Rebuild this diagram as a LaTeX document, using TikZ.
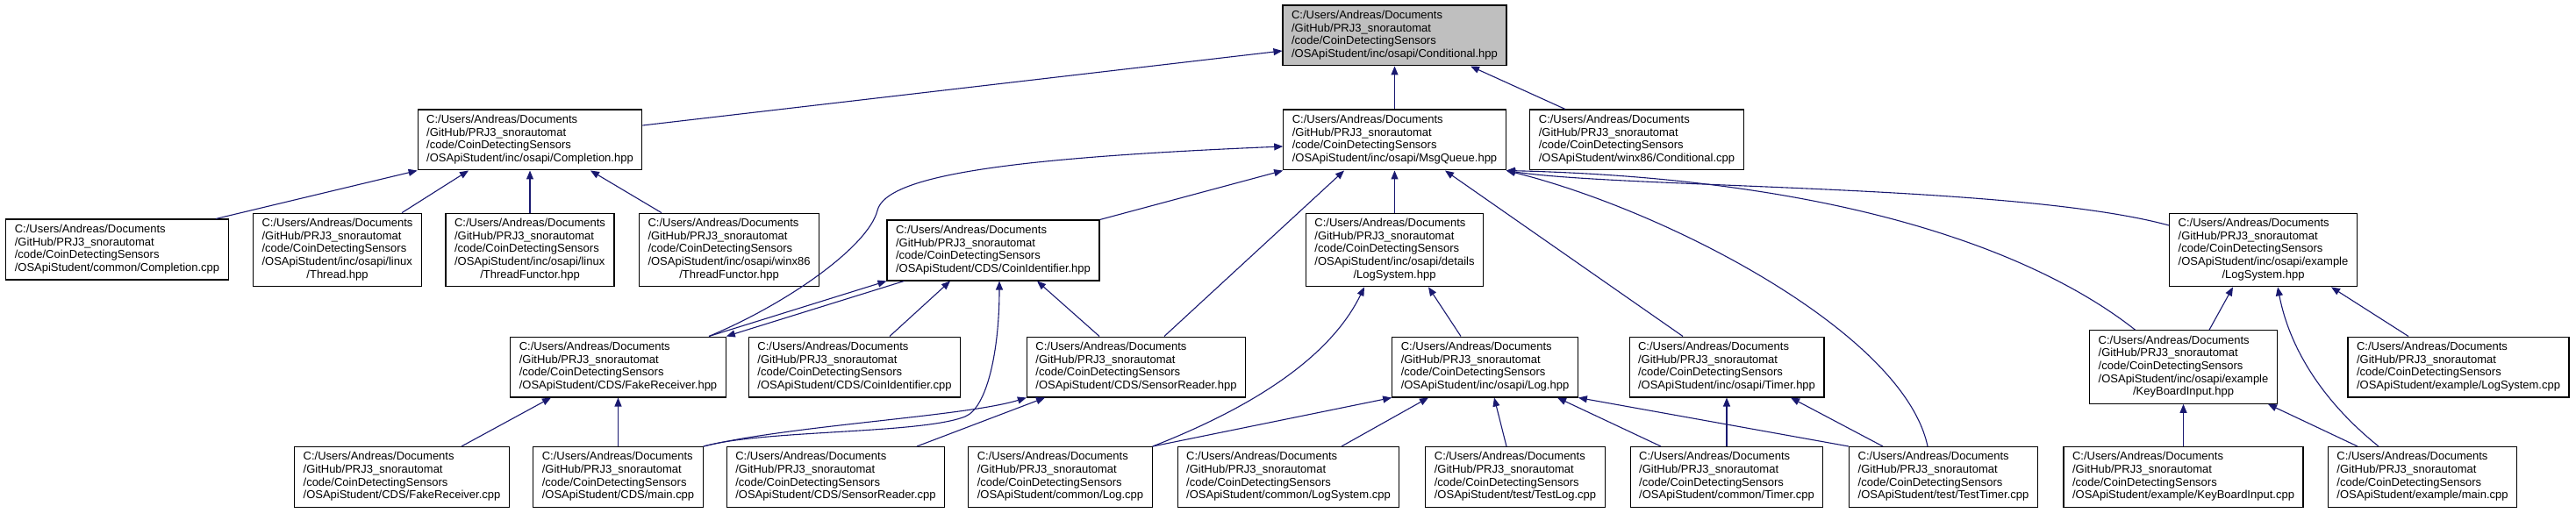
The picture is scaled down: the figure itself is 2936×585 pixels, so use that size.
\documentclass[tikz,border=0pt]{standalone}
\usepackage{fontspec}
\usepackage{tikz}
\usetikzlibrary{arrows.meta}
\newfontfamily\dotfont{Liberation Sans}
\definecolor{edgeblue}{HTML}{191970}
\definecolor{rootgray}{HTML}{BFBFBF}
\newcommand{\pathtop}{C:/Users/Andreas/Documents\\/GitHub/PRJ3\_snorautomat\\/code/CoinDetectingSensors}
\newcommand{\fname}[1]{\begin{tabular}{@{}l@{}}\pathtop\\#1\end{tabular}}
\newcommand{\fnamelong}[2]{\begin{tabular}{@{}l@{}}\pathtop\\#1\\\multicolumn{1}{@{}c@{}}{#2}\end{tabular}}

\begin{document}
\begin{tikzpicture}[x=1pt,y=-1pt,
  srcfile/.style={draw,fill=white,line width=1.2pt,inner xsep=10pt,inner ysep=5pt,
                  font={\dotfont\fontsize{13}{14.7}\selectfont}},
  rootfile/.style={srcfile,fill=rootgray},
  dep/.style={draw=edgeblue,line width=1.1pt,-{Triangle[length=10pt,width=8pt]}}]
  \useasboundingbox (0,0) rectangle (2936,585);
  % The header whose includers are shown, and the first ring round it.
  \node[rootfile] (condh) at (1589.5,40.5) {\fname{/OSApiStudent/inc/osapi/Conditional.hpp}};
  \node[srcfile] (comph) at (604,159.5) {\fname{/OSApiStudent/inc/osapi/Completion.hpp}};
  \node[srcfile] (msgq) at (1589.5,159.5) {\fname{/OSApiStudent/inc/osapi/MsgQueue.hpp}};
  \node[srcfile] (condcpp) at (1865.5,159.5) {\fname{/OSApiStudent/winx86/Conditional.cpp}};

  \node[srcfile] (compcpp) at (133.5,284.5) {\fname{/OSApiStudent/common/Completion.cpp}};
  \node[srcfile] (thread) at (384.5,285) {\fnamelong{/OSApiStudent/inc/osapi/linux}{/Thread.hpp}};
  \node[srcfile] (thfunc) at (604,285) {\fnamelong{/OSApiStudent/inc/osapi/linux}{/ThreadFunctor.hpp}};
  \node[srcfile] (thfuncw) at (831,285) {\fnamelong{/OSApiStudent/inc/osapi/winx86}{/ThreadFunctor.hpp}};
  \node[srcfile] (coinh) at (1132,285.5) {\fname{/OSApiStudent/CDS/CoinIdentifier.hpp}};
  \node[srcfile] (detlog) at (1589.5,285) {\fnamelong{/OSApiStudent/inc/osapi/details}{/LogSystem.hpp}};
  \node[srcfile] (exlog) at (2579.5,285) {\fnamelong{/OSApiStudent/inc/osapi/example}{/LogSystem.hpp}};

  \node[srcfile] (fakeh) at (704.5,418.5) {\fname{/OSApiStudent/CDS/FakeReceiver.hpp}};
  \node[srcfile] (coincpp) at (974,418.5) {\fname{/OSApiStudent/CDS/CoinIdentifier.cpp}};
  \node[srcfile] (sensh) at (1295,418.5) {\fname{/OSApiStudent/CDS/SensorReader.hpp}};
  \node[srcfile] (logh) at (1692.5,418.5) {\fname{/OSApiStudent/inc/osapi/Log.hpp}};
  \node[srcfile] (timerh) at (1968,418.5) {\fname{/OSApiStudent/inc/osapi/Timer.hpp}};
  \node[srcfile] (keyh) at (2488.5,418.5) {\fnamelong{/OSApiStudent/inc/osapi/example}{/KeyBoardInput.hpp}};
  \node[srcfile] (exlogcpp) at (2802,418.5) {\fname{/OSApiStudent/example/LogSystem.cpp}};

  \node[srcfile] (fakecpp) at (458,544) {\fname{/OSApiStudent/CDS/FakeReceiver.cpp}};
  \node[srcfile] (maincpp) at (704.5,544) {\fname{/OSApiStudent/CDS/main.cpp}};
  \node[srcfile] (senscpp) at (952.5,544) {\fname{/OSApiStudent/CDS/SensorReader.cpp}};
  \node[srcfile] (logcpp) at (1208.5,544) {\fname{/OSApiStudent/common/Log.cpp}};
  \node[srcfile] (logsyscpp) at (1468.5,544) {\fname{/OSApiStudent/common/LogSystem.cpp}};
  \node[srcfile] (testlog) at (1727,544) {\fname{/OSApiStudent/test/TestLog.cpp}};
  \node[srcfile] (timercpp) at (1968,544) {\fname{/OSApiStudent/common/Timer.cpp}};
  \node[srcfile] (testtimer) at (2215,544) {\fname{/OSApiStudent/test/TestTimer.cpp}};
  \node[srcfile] (keycpp) at (2488.5,544) {\fname{/OSApiStudent/example/KeyBoardInput.cpp}};
  \node[srcfile] (exmain) at (2761,544) {\fname{/OSApiStudent/example/main.cpp}};

  % Conditional.hpp
  \draw[dep] ([yshift=16.5pt]comph.east) -- ([yshift=-17.5pt]condh.west);
  \draw[dep] (msgq) -- (condh);
  \draw[dep] ([xshift=-81.5pt]condcpp.north) -- ([xshift=86.5pt]condh.south);

  % Completion.hpp
  \draw[dep] ([xshift=112.5pt]compcpp.north) -- (comph.south west);
  \draw[dep] ([xshift=73.5pt]thread.north) -- ([xshift=-70pt]comph.south);
  \draw[dep] (thfunc) -- (comph);
  \draw[dep] ([xshift=-77pt]thfuncw.north) -- ([xshift=69pt]comph.south);

  % MsgQueue.hpp
  \draw[dep] ([xshift=103.5pt]fakeh.north) .. controls (900,345) and (990,280) .. (1000,240)
    .. controls (1010,200) and (1150,180) .. ([yshift=-7.5pt]msgq.west);
  \draw[dep] (coinh.north east) -- (msgq.south west);
  \draw[dep] ([xshift=32pt]sensh.north) -- ([xshift=-57.5pt]msgq.south);
  \draw[dep] (detlog) -- (msgq);
  \draw[dep] ([xshift=-50pt]timerh.north) -- ([xshift=57.5pt]msgq.south);
  \draw[dep] ([xshift=-18pt]testtimer.north) .. controls (2170,380) and (1900,240) .. (msgq.south east);
  \draw[dep] ([xshift=-55pt]keyh.north) .. controls (2350,310) and (2150,205) .. (msgq.south east);
  \draw[dep] ([yshift=28pt]exlog.west) .. controls (2300,210) and (1850,215) .. (msgq.south east);

  % CoinIdentifier.hpp
  \draw[dep] ([xshift=103.5pt]fakeh.north) -- (coinh.south west);
  \draw[dep] ([xshift=20pt]coinh.south west) -- (fakeh.north east);
  \draw[dep] ([xshift=40pt]coincpp.north) -- ([xshift=-49pt]coinh.south);
  \draw[dep] ([xshift=-42pt]sensh.north) -- ([xshift=50pt]coinh.south);
  \draw[dep] (maincpp.north east) .. controls (870,490) and (1050,495) .. (1100,475)
    .. controls (1125,465) and (1139,400) .. ([xshift=7pt]coinh.south);

  % SensorReader.hpp and FakeReceiver.hpp
  \draw[dep] (maincpp.north east) .. controls (900,485) and (1100,475) .. (sensh.south west);
  \draw[dep] ([xshift=92.5pt]senscpp.north) -- ([xshift=-104pt]sensh.south);
  \draw[dep] ([xshift=68pt]fakecpp.north) -- ([xshift=-76.5pt]fakeh.south);
  \draw[dep] (maincpp) -- (fakeh);

  % details/LogSystem.hpp and Log.hpp
  \draw[dep] ([xshift=-27.5pt]logh.north) -- ([xshift=38.5pt]detlog.south);
  \draw[dep] (logcpp.north east) .. controls (1400,475) and (1510,420) .. ([xshift=-34.5pt]detlog.south);
  \draw[dep] (logcpp.north east) -- (logh.south west);
  \draw[dep] ([xshift=60.5pt]logsyscpp.north) -- ([xshift=-64.5pt]logh.south);
  \draw[dep] ([xshift=-10pt]testlog.north) -- ([xshift=10.5pt]logh.south);
  \draw[dep] ([xshift=-75pt]timercpp.north) -- ([xshift=82.5pt]logh.south);
  \draw[dep] (testtimer.north west) -- (logh.south east);

  % Timer.hpp
  \draw[dep] (timercpp) -- (timerh);
  \draw[dep] ([xshift=-69pt]testtimer.north) -- ([xshift=73pt]timerh.south);

  % example/LogSystem.hpp and KeyBoardInput.hpp
  \draw[dep] ([xshift=29.5pt]keyh.north) -- ([xshift=-34.5pt]exlog.south);
  \draw[dep] ([xshift=-50pt]exmain.north) .. controls (2650,460) and (2610,400) .. ([xshift=16.5pt]exlog.south);
  \draw[dep] ([xshift=-57pt]exlogcpp.north) -- ([xshift=77.5pt]exlog.south);
  \draw[dep] (keycpp) -- (keyh);
  \draw[dep] ([xshift=-74pt]exmain.north) -- ([xshift=96.5pt]keyh.south);
\end{tikzpicture}
\end{document}
